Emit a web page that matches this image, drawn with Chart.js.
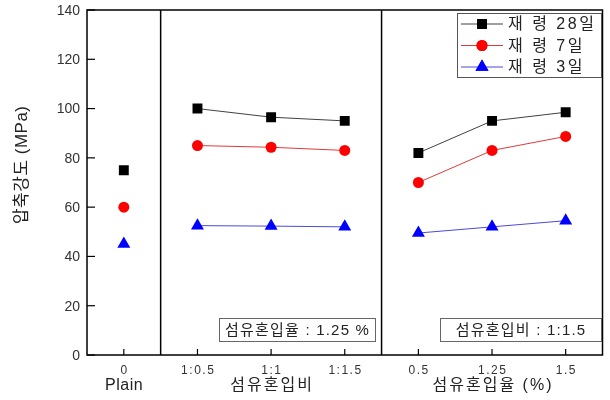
<!DOCTYPE html>
<html><head><meta charset="utf-8">
<script src="https://cdn.jsdelivr.net/npm/chart.js@4"></script>
<style>html,body{margin:0;padding:0;background:#fff}#wrap{width:610px;height:400px}</style>
</head><body><div id="wrap"><canvas id="c" width="610" height="400"></canvas></div>
<script>
const categories = ['0', '1:0.5', '1:1', '1:1.5', '0.5', '1.25', '1.5'];
const seriesNames = ['재 령 28일', '재 령 7일', '재 령 3일'];
const age28 = [75, 100, 96.5, 95, 82, 95, 98.5];
const age7 = [60, 85, 84.3, 83, 70, 83, 88.7];
const age3 = [45, 52.5, 52.3, 52, 49.5, 52, 54.5];
const yTicks = [0, 20, 40, 60, 80, 100, 120, 140];
const yTitle = '압축강도 (MPa)';
const groupLabels = [{at: '0', text: 'Plain'}, {at: '1:1', text: '섬유혼입비'}, {at: '1.25', text: '섬유혼입율 (%)'}];
const noteBoxes = ['섬유혼입율 : 1.25 %', '섬유혼입비 : 1:1.5'];
const groupBreaks = [0, 3]; // break after these indices

const FONT = '"Liberation Sans", "Noto Sans CJK KR", sans-serif';
const styles = [
  {pt: 'rect', r: 7, fill: '#000000', line: '#404040'},
  {pt: 'circle', r: 5.5, fill: '#ff0000', line: '#e03a3a'},
  {pt: 'triangle', r: 7.5, fill: '#0000ff', line: '#4a4ad8'}
];
const allData = [age28, age7, age3];

const datasets = allData.map((d, i) => ({
  label: seriesNames[i],
  data: d,
  pointStyle: styles[i].pt,
  pointRadius: styles[i].r,
  pointHoverRadius: styles[i].r,
  pointBackgroundColor: styles[i].fill,
  pointBorderColor: styles[i].fill,
  pointBorderWidth: 0,
  borderColor: styles[i].line,
  borderWidth: 1,
  segment: {
    borderColor: ctx => groupBreaks.includes(ctx.p0DataIndex) ? 'rgba(0,0,0,0)' : styles[i].line
  }
}));

function spacedText(ctx, text, x, y, spacing) {
  ctx.letterSpacing = spacing + 'px';
  const w = ctx.measureText(text).width - spacing;
  const align = ctx.textAlign;
  ctx.textAlign = 'left';
  let sx = x;
  if (align === 'center') sx = x - w / 2;
  else if (align === 'right') sx = x - w;
  ctx.fillText(text, sx, y);
  ctx.textAlign = align;
  ctx.letterSpacing = '0px';
}

const decor = {
  id: 'decor',
  afterDraw(chart) {
    const ctx = chart.ctx, a = chart.chartArea;
    const xs = chart.scales.x, ys = chart.scales.y;
    ctx.save();
    ctx.strokeStyle = '#000'; ctx.lineWidth = 1.5;
    ctx.strokeRect(a.left, a.top, a.right - a.left, a.bottom - a.top);
    // separators
    groupBreaks.forEach(i => {
      const x = (xs.getPixelForValue(i) + xs.getPixelForValue(i + 1)) / 2;
      ctx.beginPath(); ctx.moveTo(x, a.top); ctx.lineTo(x, a.bottom); ctx.stroke();
    });
    // inner ticks
    ctx.lineWidth = 1.2;
    categories.forEach((c, i) => {
      const x = xs.getPixelForValue(i);
      ctx.beginPath(); ctx.moveTo(x, a.bottom); ctx.lineTo(x, a.bottom - 6); ctx.stroke();
    });
    yTicks.forEach(v => {
      const y = ys.getPixelForValue(v);
      ctx.beginPath(); ctx.moveTo(a.left, y); ctx.lineTo(a.left + 8, y); ctx.stroke();
    });
    ctx.textBaseline = 'middle';
    // x tick labels
    ctx.fillStyle = '#333'; ctx.font = '12px ' + FONT; ctx.textAlign = 'center';
    categories.forEach((c, i) => spacedText(ctx, c, xs.getPixelForValue(i), a.bottom + 16, 1.5));
    // y tick labels
    ctx.textAlign = 'right'; ctx.font = '14px ' + FONT;
    yTicks.forEach(v => ctx.fillText(String(v), a.left - 7, ys.getPixelForValue(v) + 1));
    // y title
    ctx.save();
    ctx.translate(22, 165); ctx.rotate(-Math.PI / 2);
    ctx.textAlign = 'center'; ctx.font = '17px ' + FONT; ctx.fillStyle = '#222';
    spacedText(ctx, yTitle, 0, 0, 0.5);
    ctx.restore();
    // group labels
    ctx.fillStyle = '#222'; ctx.font = '16px ' + FONT; ctx.textAlign = 'center';
    groupLabels.forEach(g => {
      const sp = /^[A-Za-z]+$/.test(g.text) ? 0.5 : 2;
      spacedText(ctx, g.text, xs.getPixelForValue(categories.indexOf(g.at)), a.bottom + 31, sp);
    });
    // note boxes
    const boxes = [{x1: 219, x2: 375}, {x1: 440, x2: 601}];
    ctx.font = '15px ' + FONT;
    boxes.forEach((b, i) => {
      ctx.strokeStyle = '#666'; ctx.lineWidth = 1;
      ctx.strokeRect(b.x1 + 0.5, 318.5, b.x2 - b.x1, 23);
      ctx.fillStyle = '#222';
      spacedText(ctx, noteBoxes[i], (b.x1 + b.x2) / 2, 330.5, 1.2);
    });
    // legend
    ctx.strokeStyle = '#555'; ctx.lineWidth = 1;
    ctx.strokeRect(457.5, 13.5, 144, 64);
    ctx.textAlign = 'left'; ctx.font = '16px ' + FONT;
    chart.data.datasets.forEach((ds, i) => {
      const y = 24 + i * 21.5;
      ctx.strokeStyle = styles[i].line; ctx.lineWidth = 1;
      ctx.beginPath(); ctx.moveTo(461, y); ctx.lineTo(503, y); ctx.stroke();
      ctx.fillStyle = styles[i].fill;
      Chart.helpers.drawPoint(ctx, {pointStyle: styles[i].pt, radius: styles[i].r, borderWidth: 0}, 482, y);
      ctx.fill();
      ctx.fillStyle = '#222';
      spacedText(ctx, ds.label, 508, y + 1, 2.5);
    });
    ctx.restore();
  }
};

new Chart(document.getElementById('c'), {
  type: 'line',
  data: {labels: categories, datasets},
  options: {
    responsive: false, animation: false,
    layout: {padding: {top: 10, right: 7, left: 0, bottom: 0}},
    plugins: {legend: {display: false}, tooltip: {enabled: false}},
    scales: {
      x: {
        type: 'category', offset: true,
        grid: {display: false, drawTicks: false},
        border: {display: false},
        ticks: {display: false},
        afterFit(s) { s.height = 45; }
      },
      y: {
        min: 0, max: 140,
        grid: {display: false, drawTicks: false},
        border: {display: false},
        ticks: {display: false},
        afterFit(s) { s.width = 87; }
      }
    }
  },
  plugins: [decor]
});
</script></body></html>
